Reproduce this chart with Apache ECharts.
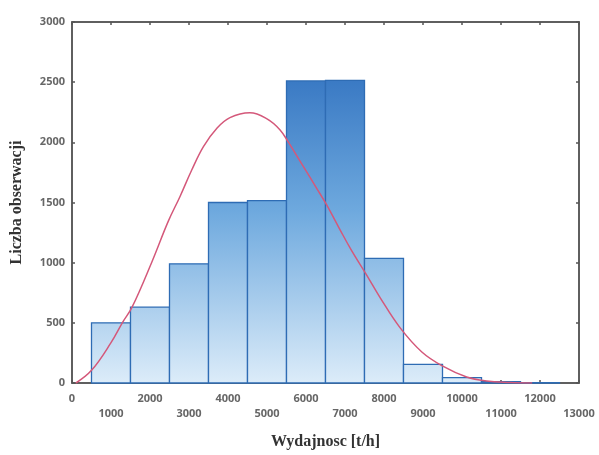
<!DOCTYPE html>
<html><head><meta charset="utf-8">
<script src="https://cdn.jsdelivr.net/npm/echarts@6/dist/echarts.min.js"></script>
<style>html,body{margin:0;padding:0;background:#fff}#c{width:599px;height:455px}</style>
</head><body><div id="c"></div>
<script>
// Histogram bins (t/h) and observation counts
const binStart = [500, 1500, 2500, 3500, 4500, 5500, 6500, 7500, 8500, 9500, 10500, 11500];
const binEnd   = [1500, 2500, 3500, 4500, 5500, 6500, 7500, 8500, 9500, 10500, 11500, 12500];
const counts   = [500, 630, 990, 1500, 1515, 2510, 2515, 1035, 155, 45, 12, 3];

// Fitted density curve
const curveX = [100, 500, 1000, 1290, 1540, 2040, 2470, 2770, 3070, 3370, 3710, 4050, 4560, 5000, 5330, 5560, 5930, 6270, 6530, 6870, 7170, 7540, 7900, 8410, 8970, 9520, 10120, 10630, 11230, 11800];
const curveY = [0, 105, 335, 500, 630, 1000, 1345, 1550, 1770, 1965, 2115, 2205, 2245, 2195, 2105, 1995, 1800, 1620, 1480, 1275, 1100, 905, 710, 460, 258, 138, 50, 17, 5, 0];

// Axis settings
const xMin = 0, xMax = 13000, xStep = 1000;
const yMin = 0, yMax = 3000, yStep = 500;
const xTitle = 'Wydajnosc [t/h]';
const yTitle = 'Liczba obserwacji';

const chart = echarts.init(document.getElementById('c'));
const axisLineStyle = {color: '#555', width: 1.5};
const labelStyle = {color: '#666', fontSize: 11, fontWeight: 'bold', fontFamily: 'Open Sans, DejaVu Sans, sans-serif'};
const titleStyle = {color: '#333', fontSize: 16, fontWeight: 'bold', fontFamily: 'Liberation Serif, Times New Roman, serif'};
const gradStops = [
  {offset: 0, color: '#3676c2'},
  {offset: 0.45, color: '#6ea9de'},
  {offset: 1, color: '#dcecf9'}
];

chart.setOption({
  animation: false,
  backgroundColor: '#fff',
  grid: {left: 72, right: 20, top: 22, bottom: 69, show: true, borderColor: '#555', borderWidth: 1.5, backgroundColor: 'transparent'},
  xAxis: [{
    type: 'value', min: xMin, max: xMax, interval: xStep, position: 'bottom',
    name: xTitle, nameLocation: 'middle', nameGap: 51, nameTextStyle: titleStyle,
    axisLine: {show: true, onZero: false, lineStyle: axisLineStyle},
    axisTick: {show: true, inside: true, length: 3, lineStyle: axisLineStyle},
    splitLine: {show: false},
    axisLabel: Object.assign({margin: 8, lineHeight: 15,
      formatter: v => ((v / xStep) % 2 === 1 ? '\n' + v : String(v))}, labelStyle)
  }, {
    type: 'value', min: xMin, max: xMax, interval: xStep, position: 'top',
    axisLine: {show: true, onZero: false, lineStyle: axisLineStyle},
    axisTick: {show: true, inside: true, length: 3, lineStyle: axisLineStyle},
    axisLabel: {show: false}, splitLine: {show: false}
  }],
  yAxis: [{
    type: 'value', min: yMin, max: yMax, interval: yStep, position: 'left',
    name: yTitle, nameLocation: 'middle', nameGap: 47, nameRotate: 90, nameTextStyle: titleStyle,
    axisLine: {show: true, onZero: false, lineStyle: axisLineStyle},
    axisTick: {show: true, inside: true, length: 3, lineStyle: axisLineStyle},
    splitLine: {show: false},
    axisLabel: Object.assign({margin: 7, formatter: v => String(v)}, labelStyle)
  }, {
    type: 'value', min: yMin, max: yMax, interval: yStep, position: 'right',
    axisLine: {show: true, onZero: false, lineStyle: axisLineStyle},
    axisTick: {show: true, inside: true, length: 3, lineStyle: axisLineStyle},
    axisLabel: {show: false}, splitLine: {show: false}
  }],
  series: [{
    type: 'custom',
    xAxisIndex: 0, yAxisIndex: 0,
    data: binStart.map((s, i) => [s, binEnd[i], counts[i]]),
    encode: {x: [0, 1], y: 2},
    renderItem: function (params, api) {
      const p0 = api.coord([api.value(0), api.value(2)]);
      const p1 = api.coord([api.value(1), 0]);
      const gTop = api.coord([0, 2600])[1];
      const gBot = api.coord([0, 0])[1];
      return {
        type: 'rect',
        shape: {x: p0[0], y: p0[1], width: p1[0] - p0[0], height: p1[1] - p0[1]},
        style: {
          fill: new echarts.graphic.LinearGradient(0, gTop, 0, gBot, gradStops, true),
          stroke: '#2e6cb4', lineWidth: 1.3
        }
      };
    },
    z: 2
  }, {
    type: 'line',
    xAxisIndex: 0, yAxisIndex: 0,
    data: curveX.map((x, i) => [x, curveY[i]]),
    smooth: 0.4, showSymbol: false,
    lineStyle: {color: '#d4587a', width: 1.5},
    z: 3
  }, {
    type: 'line', xAxisIndex: 1, yAxisIndex: 1, data: [], silent: true
  }]
});
</script>
</body></html>
